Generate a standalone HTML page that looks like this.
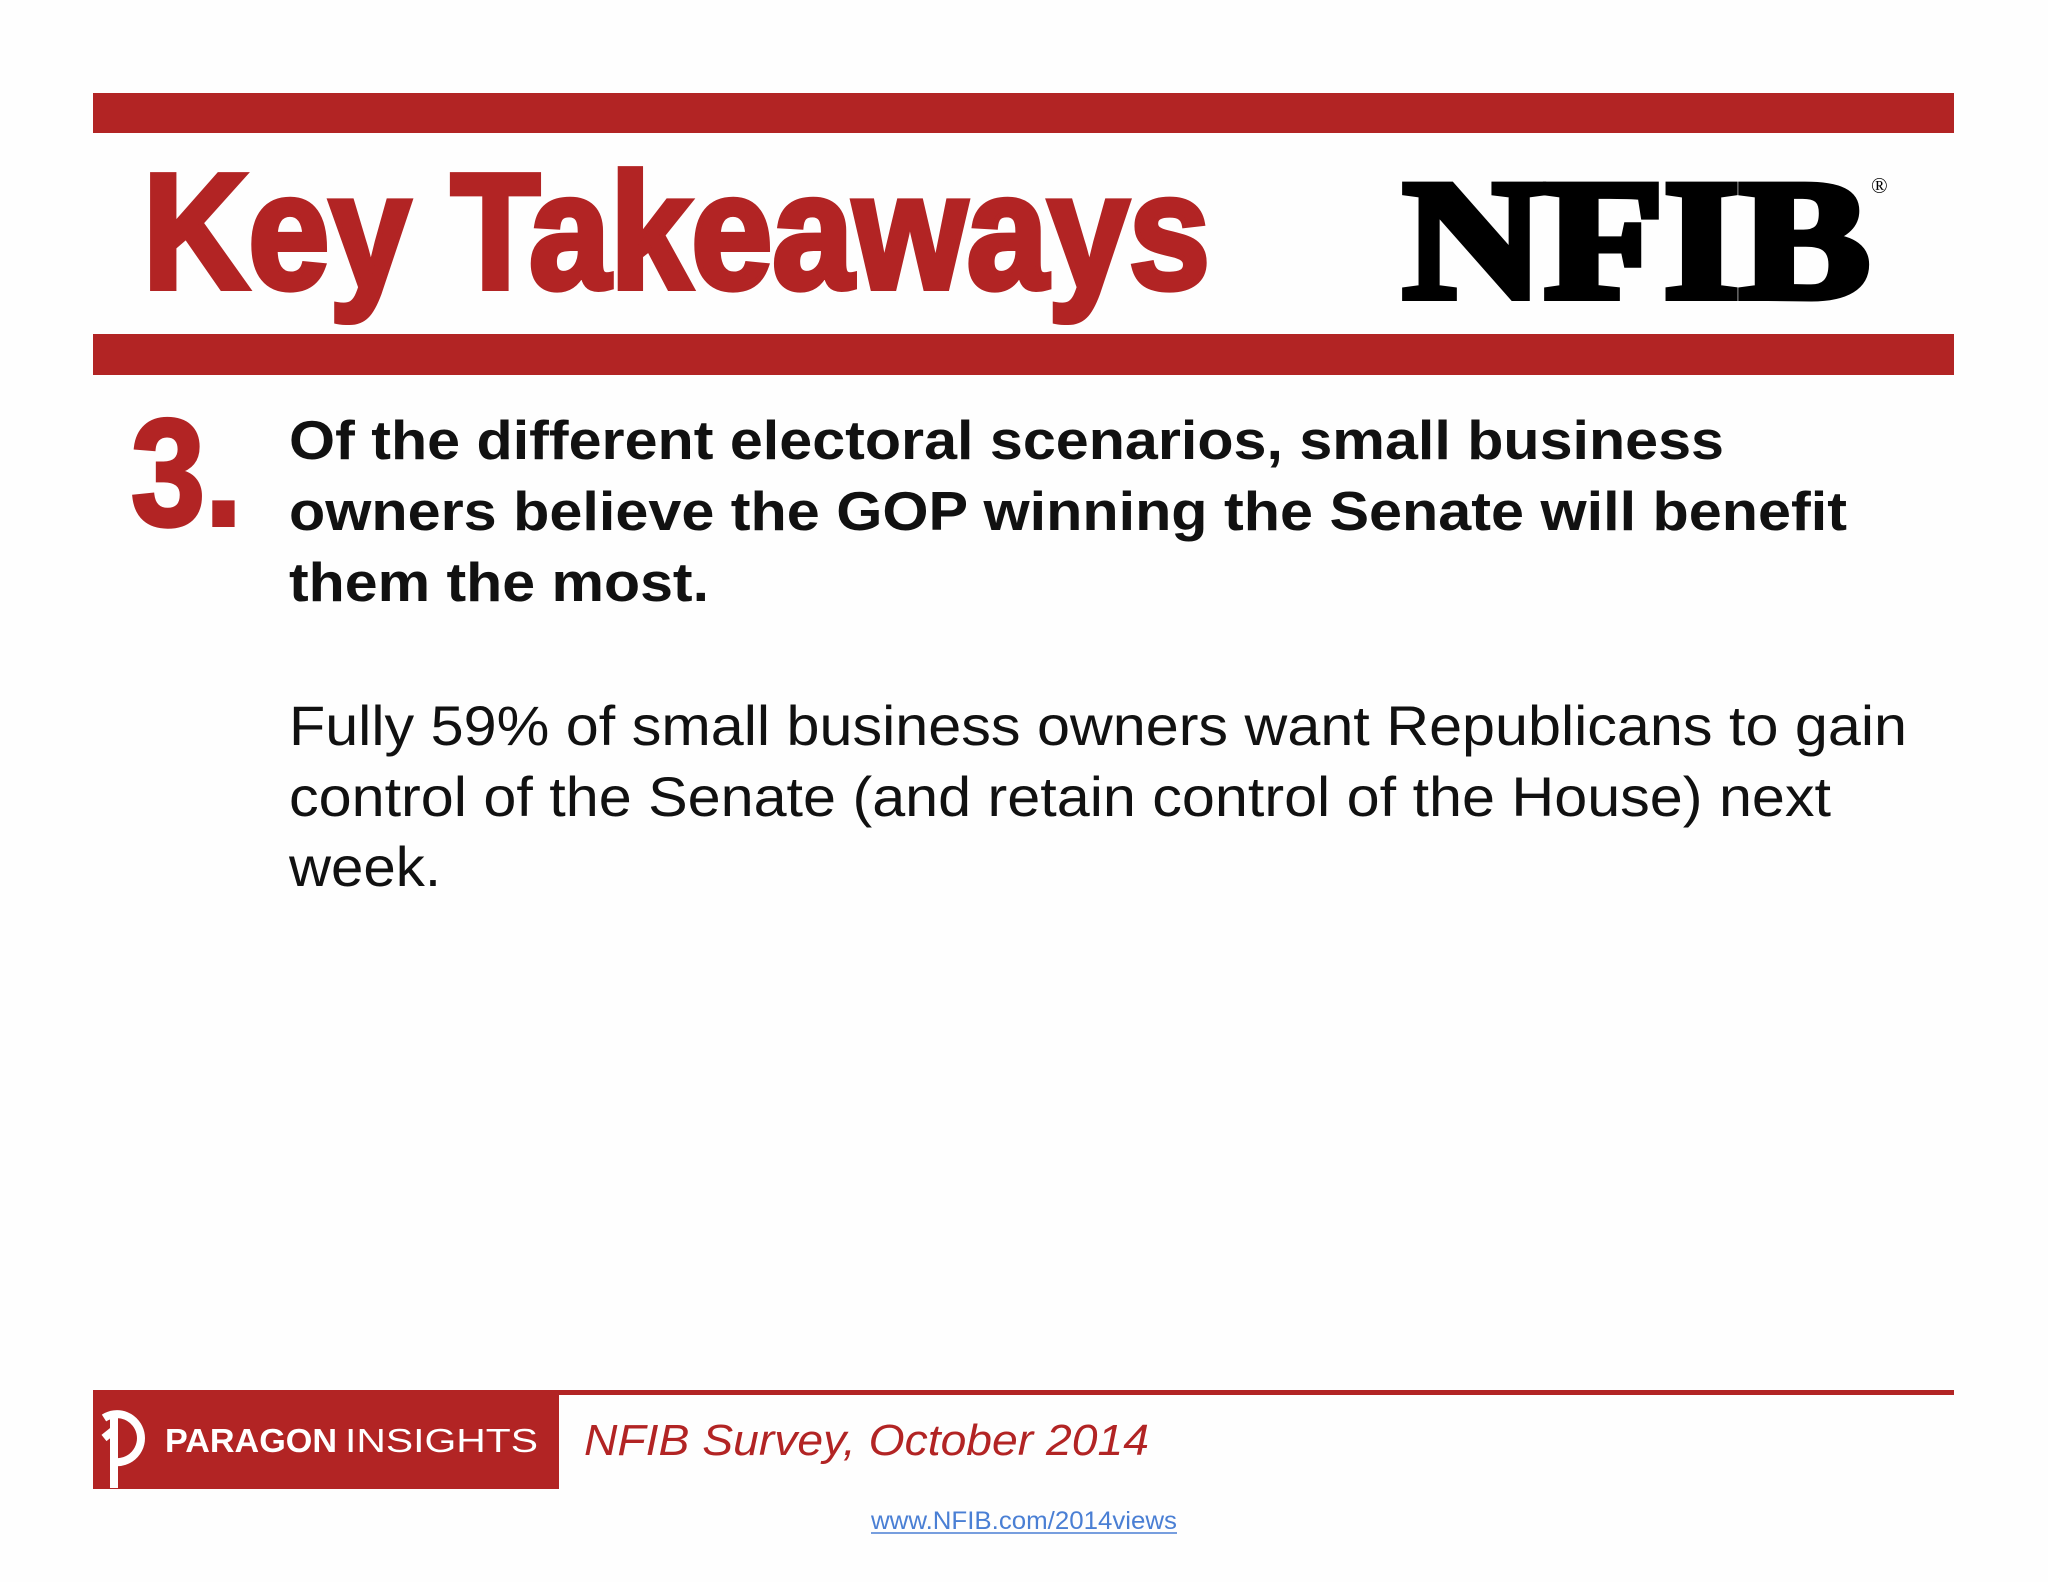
<!DOCTYPE html>
<html><head><meta charset="utf-8"><style>
html,body{margin:0;padding:0;background:#fefefe;}
svg{display:block}
</style></head><body>
<svg width="2048" height="1582" viewBox="0 0 2048 1582" xmlns="http://www.w3.org/2000/svg">
<rect x="0" y="0" width="2048" height="1582" fill="#fefefe"/>
<rect x="93" y="93" width="1861" height="40" fill="#b22424"/>
<rect x="93" y="334" width="1861" height="41" fill="#b22424"/>
<text x="143" y="288" font-family="Liberation Sans, sans-serif" font-weight="bold" font-size="164" fill="#b22424" stroke="#b22424" stroke-width="6" textLength="1067" lengthAdjust="spacingAndGlyphs">Key Takeaways</text>
<text x="1403" y="297" font-family="Liberation Serif, serif" font-weight="bold" font-size="170" fill="#000" stroke="#000" stroke-width="8" textLength="467" lengthAdjust="spacingAndGlyphs">NFIB</text>
<text x="1871" y="193" font-family="Liberation Serif, serif" font-size="22" fill="#000">®</text>
<text x="131" y="525" font-family="Liberation Sans, sans-serif" font-weight="bold" font-size="152" fill="#b22424" stroke="#b22424" stroke-width="4" textLength="111" lengthAdjust="spacingAndGlyphs">3.</text>
<g font-family="Liberation Sans, sans-serif" font-weight="bold" font-size="55" fill="#111">
<text x="289" y="459" textLength="1435" lengthAdjust="spacingAndGlyphs">Of the different electoral scenarios, small business</text>
<text x="289" y="530" textLength="1558" lengthAdjust="spacingAndGlyphs">owners believe the GOP winning the Senate will benefit</text>
<text x="289" y="601" textLength="420" lengthAdjust="spacingAndGlyphs">them the most.</text>
</g>
<g font-family="Liberation Sans, sans-serif" font-size="56" fill="#111">
<text x="289" y="745" textLength="1618" lengthAdjust="spacingAndGlyphs">Fully 59% of small business owners want Republicans to gain</text>
<text x="289" y="816" textLength="1542" lengthAdjust="spacingAndGlyphs">control of the Senate (and retain control of the House) next</text>
<text x="289" y="886" textLength="152" lengthAdjust="spacingAndGlyphs">week.</text>
</g>
<rect x="93" y="1390" width="1861" height="5" fill="#b22424"/>
<rect x="93" y="1390" width="466" height="99" fill="#b22424"/>
<g fill="none" stroke="#fff" stroke-width="8">
<path d="M104 1418 A24 24 0 1 1 114 1462"/>
<line x1="114" y1="1418" x2="114" y2="1488"/>
<path d="M104 1438 L114 1430"/>
</g>
<text x="165" y="1452" font-family="Liberation Sans, sans-serif" font-weight="bold" font-size="33" fill="#fff" textLength="172" lengthAdjust="spacingAndGlyphs">PARAGON</text>
<text x="345" y="1452" font-family="Liberation Sans, sans-serif" font-size="33" fill="#fff" textLength="193" lengthAdjust="spacingAndGlyphs">INSIGHTS</text>
<text x="584" y="1455" font-family="Liberation Sans, sans-serif" font-style="italic" font-size="44" fill="#b22424" textLength="565" lengthAdjust="spacingAndGlyphs">NFIB Survey, October 2014</text>
<text x="871" y="1529" font-family="Liberation Sans, sans-serif" font-size="25" fill="#4a7fd4" textLength="306" lengthAdjust="spacingAndGlyphs">www.NFIB.com/2014views</text>
<line x1="871" y1="1533" x2="1177" y2="1533" stroke="#4a7fd4" stroke-width="1.5"/>
</svg>
</body></html>
